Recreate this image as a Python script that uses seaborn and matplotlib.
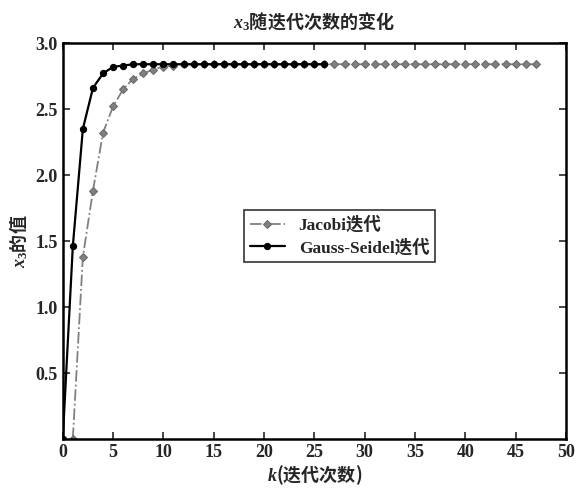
import pandas as pd
import numpy as np
import matplotlib
matplotlib.use("Agg")
import matplotlib.pyplot as plt
import seaborn as sns

# iteration values of x3
jacobi_k = list(range(1, 48))
jacobi_x3 = [0.00, 1.38, 1.88, 2.32, 2.52, 2.65, 2.73, 2.77, 2.80, 2.82, 2.83,
             2.84, 2.84, 2.84, 2.84, 2.84, 2.84, 2.84, 2.84, 2.84, 2.84, 2.84,
             2.84, 2.84, 2.84, 2.84, 2.84, 2.84, 2.84, 2.84, 2.84, 2.84, 2.84,
             2.84, 2.84, 2.84, 2.84, 2.84, 2.84, 2.84, 2.84, 2.84, 2.84, 2.84,
             2.84, 2.84, 2.84]
gs_k = list(range(0, 27))
gs_x3 = [0.00, 1.46, 2.35, 2.66, 2.77, 2.82, 2.83, 2.84, 2.84, 2.84, 2.84,
         2.84, 2.84, 2.84, 2.84, 2.84, 2.84, 2.84, 2.84, 2.84, 2.84, 2.84,
         2.84, 2.84, 2.84, 2.84, 2.84]

x_ticks = list(range(0, 51, 5))
y_ticks = [0.5, 1.0, 1.5, 2.0, 2.5, 3.0]

sns.set_style("white")
plt.rcParams["font.family"] = ["Liberation Serif", "Noto Sans CJK SC"]
plt.rcParams["font.weight"] = "bold"
plt.rcParams["mathtext.fontset"] = "custom"
plt.rcParams["mathtext.it"] = "Liberation Serif:italic:bold"
plt.rcParams["mathtext.rm"] = "Liberation Serif:bold"

df_j = pd.DataFrame({"k": jacobi_k, "x3": jacobi_x3})
df_g = pd.DataFrame({"k": gs_k, "x3": gs_x3})

fig = plt.figure(figsize=(5.81, 4.90), dpi=100)
ax = fig.add_axes([0.108, 0.104, 0.866, 0.808])

sns.lineplot(data=df_j, x="k", y="x3", ax=ax, color="#808080", linestyle="-.",
             linewidth=1.3, marker="D", markersize=4, markeredgecolor="#6a6a6a",
             label="Jacobi迭代")
sns.lineplot(data=df_g, x="k", y="x3", ax=ax, color="black", linestyle="-",
             linewidth=1.6, marker="o", markersize=4.5, markeredgecolor="black",
             label="Gauss-Seidel迭代")

ax.set_xlim(0, 50)
ax.set_ylim(0, 3.0)
ax.set_xticks(x_ticks)
ax.set_yticks(y_ticks)
ax.set_yticklabels([f"{v:.1f}" for v in y_ticks])
ax.tick_params(direction="in", length=5, width=1.2, labelsize=13,
               top=True, right=True, bottom=True, left=True)
for s in ax.spines.values():
    s.set_linewidth(1.8)
    s.set_color("black")

# mathtext uses the text's own font for the non-math part, so use the CJK family here
cjk = "Noto Sans CJK SC"
ax.set_title("$x_3$随迭代次数的变化", fontsize=13, fontweight="bold", pad=11, family=cjk)
ax.set_xlabel("$k$(迭代次数)", fontsize=13, fontweight="bold", labelpad=2, family=cjk)
ax.set_ylabel("$x_3$的值", fontsize=13, fontweight="bold", labelpad=4, family=cjk)

leg = ax.legend(loc="upper left", bbox_to_anchor=(0.343, 0.6), fontsize=12.5,
                frameon=True, fancybox=False, edgecolor="black",
                handlelength=2.0, borderpad=0.35, labelspacing=0.3)
leg.get_frame().set_linewidth(1.2)

fig.savefig("out.png", dpi=100)
